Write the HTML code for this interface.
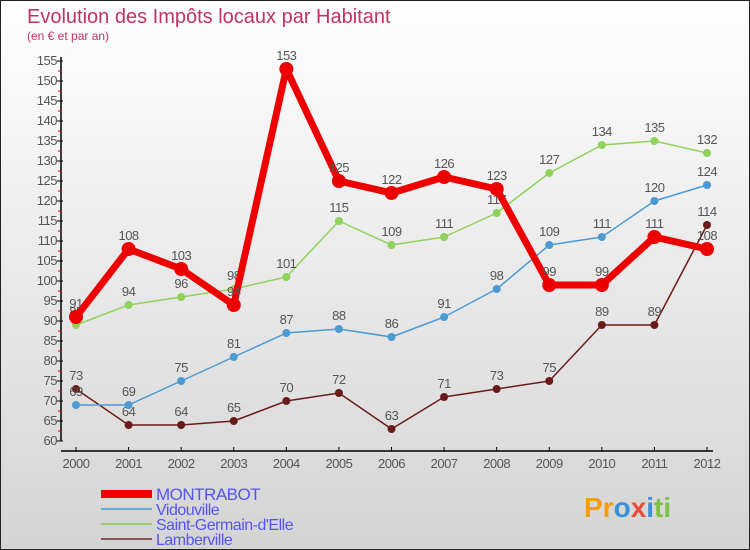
<!DOCTYPE html>
<html><head><meta charset="utf-8"><style>
body{margin:0}
#c{position:relative;width:748px;height:548px;border:1px solid #222;background:linear-gradient(#fff,#d4d4d4);font-family:"Liberation Sans",sans-serif;overflow:hidden}
text{font-family:"Liberation Sans",sans-serif}
</style></head><body>
<div id="c">
<svg id="s" width="748" height="548">
<text x="26" y="22" font-size="20" fill="#c0335f">Evolution des Impôts locaux par Habitant</text>
<text x="26" y="39" font-size="12" fill="#c0335f">(en € et par an)</text>
<text x="583" y="516" font-size="28" font-weight="bold" fill="#f39c12">Pr<tspan fill="#3b8fd4">o</tspan><tspan fill="#e74c3c">x</tspan><tspan fill="#3b8fd4">i</tspan><tspan fill="#7cc242">ti</tspan></text>
</svg>
</div>
<script>
const years=[2000,2001,2002,2003,2004,2005,2006,2007,2008,2009,2010,2011,2012];
const montrabot=[91,108,103,94,153,125,122,126,123,99,99,111,108];
const vidouville=[69,69,75,81,87,88,86,91,98,109,111,120,124];
const saintGermain=[89,94,96,98,101,115,109,111,117,127,134,135,132];
const lamberville=[73,64,64,65,70,72,63,71,73,75,89,89,114];
const yTicks=[60,65,70,75,80,85,90,95,100,105,110,115,120,125,130,135,140,145,150,155];
const NS="http://www.w3.org/2000/svg";
const s=document.getElementById('s');
function X(i){return 75+i*(706-75)/12;}
function Y(v){return 440-(v-60)*4;}
function mk(t,a){const e=document.createElementNS(NS,t);for(const k in a)e.setAttribute(k,a[k]);s.appendChild(e);return e;}
let e=mk('line',{x1:60,y1:56,x2:60,y2:440,stroke:'#000','stroke-width':1.5});


e=mk('line',{x1:60,y1:450,x2:712,y2:450,stroke:'#000','stroke-width':1.5});


yTicks.forEach(v=>{
 let t=mk('line',{x1:56,y1:Y(v),x2:62,y2:Y(v),stroke:'#000'});
 
 
 if(v<155){
 let m=mk('line',{x1:57,y1:Y(v)-10,x2:60,y2:Y(v)-10,stroke:'#e00'});
 
 
 }
 let l=mk('text',{x:56,y:Y(v)+4,'font-size':13,fill:'#555','text-anchor':'end','letter-spacing':'-0.5'});
 l.textContent=v;
 
 
});
years.forEach((y,i)=>{
 let t=mk('line',{x1:X(i),y1:446,x2:X(i),y2:450,stroke:'#000'});
 
 
 let l=mk('text',{x:X(i),y:467,'font-size':13,fill:'#555','text-anchor':'middle','letter-spacing':'-0.5'});
 l.textContent=y;
 
 
});
function series(d,col,w,r,name){
 let p=mk('polyline',{points:d.map((v,i)=>X(i)+','+Y(v)).join(' '),fill:'none',stroke:col,'stroke-width':w,'stroke-linejoin':'round'});
 
 
 d.forEach((v,i)=>{
  let c=mk('circle',{cx:X(i),cy:Y(v),r:r,fill:col});
  
  
  let l=mk('text',{x:X(i),y:Y(v)-9,'font-size':13,fill:'#555','text-anchor':'middle','letter-spacing':'-0.5'});
  l.textContent=v;
  
  
 });
}
series(lamberville,'#6b1a1a',1.5,4,'lamberville');
series(vidouville,'#4a9ad4',1.5,4,'vidouville');
series(saintGermain,'#8fd35a',1.5,4,'saint-germain');
series(montrabot,'#ee0000',7,7,'montrabot');
const legend=[['MONTRABOT','#ee0000',8],['Vidouville','#6aaad6',2],["Saint-Germain-d'Elle",'#9ad070',2],['Lamberville','#8a5555',2]];
legend.forEach((L,i)=>{
 let y=493+i*15;
 let ln=mk('line',{x1:100,y1:y,x2:151,y2:y,stroke:L[1],'stroke-width':L[2]});
 
 
 let t=mk('text',{x:155,y:y+6,'font-size':i==0?17:16,fill:'#5555ee','letter-spacing':'-0.5'});
 t.textContent=L[0];
 
 
});
</script>
</body></html>
